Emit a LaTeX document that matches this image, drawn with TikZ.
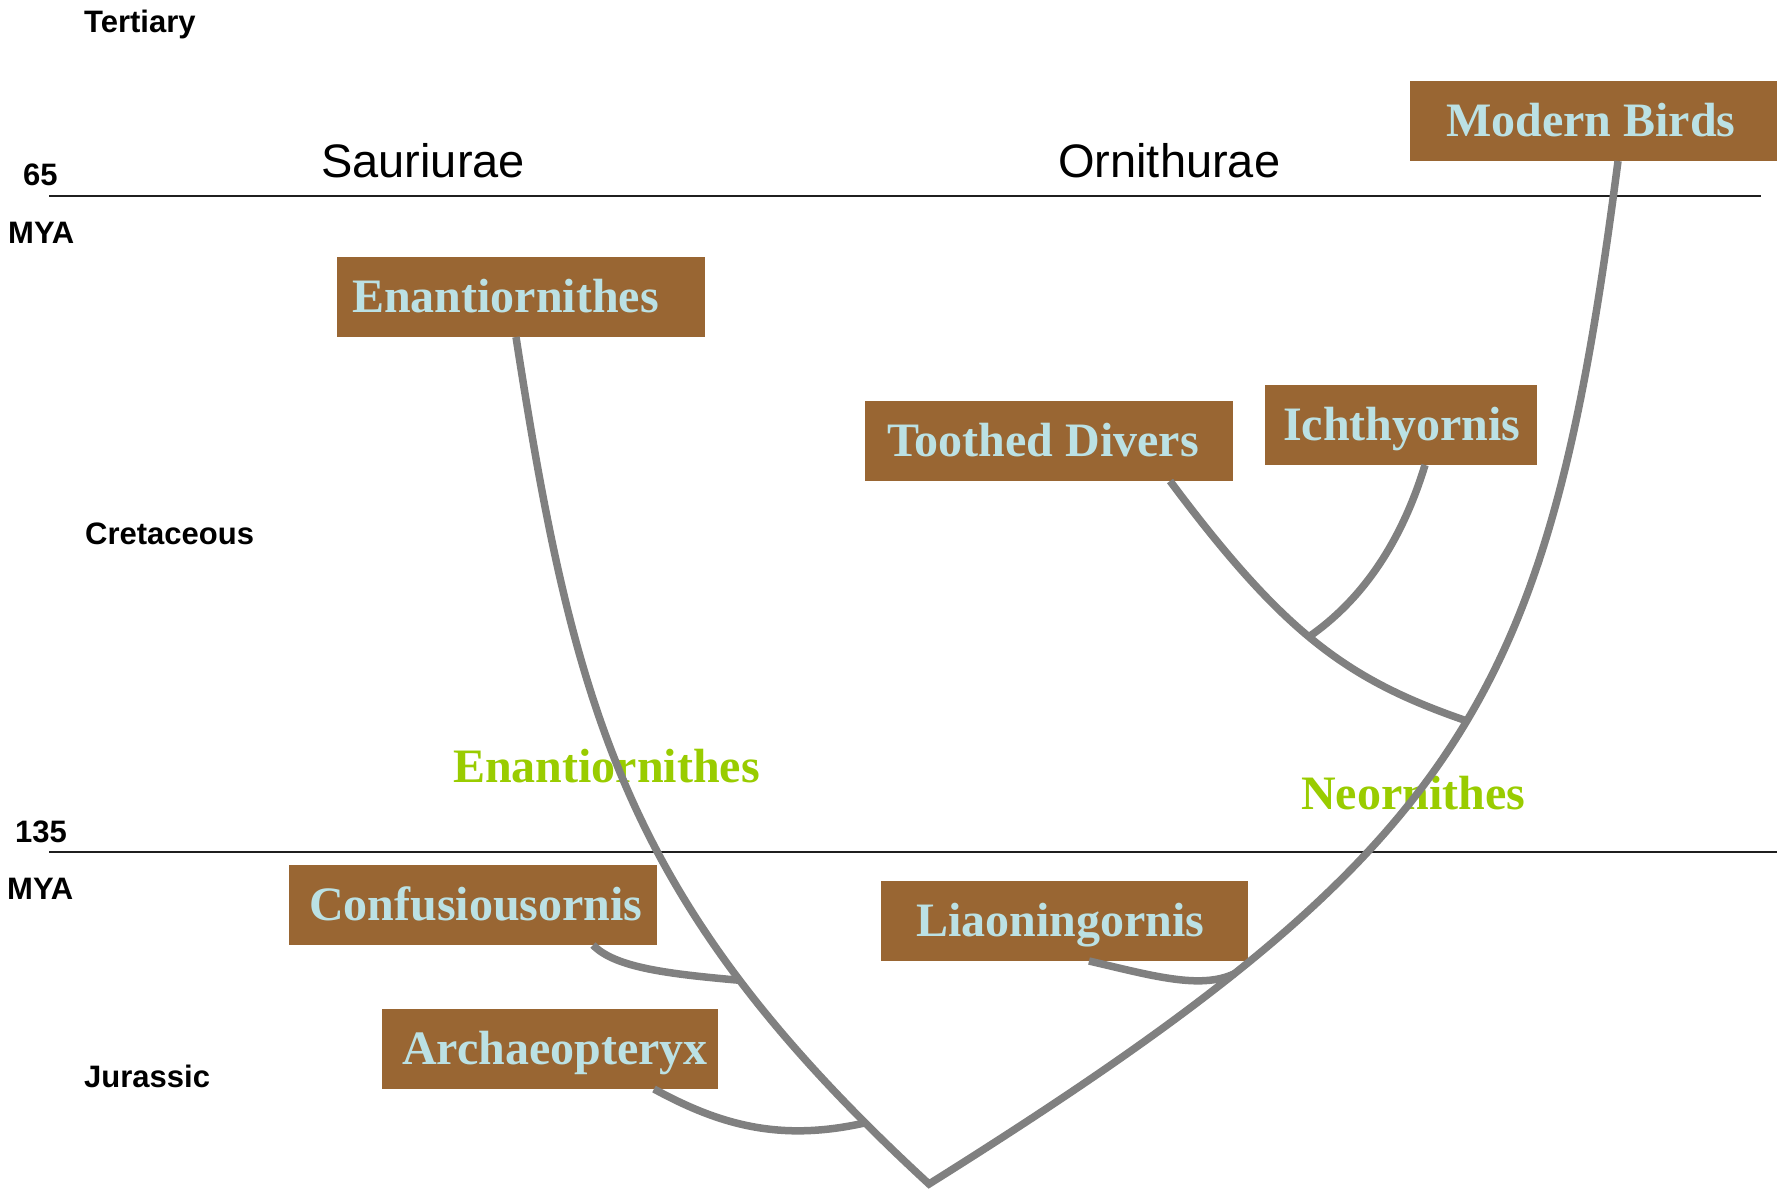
\documentclass[tikz,border=0pt]{standalone}
\usepackage{fontspec}
\setmainfont{Liberation Serif}
\newfontfamily\lsans{Liberation Sans}
\definecolor{boxbrown}{RGB}{153,102,51}
\definecolor{boxtext}{RGB}{187,225,228}
\definecolor{cladegreen}{RGB}{153,204,0}
\definecolor{branchgray}{RGB}{128,128,128}
\newcommand\bbox[6]{%
  \node[birdbox, minimum width=#4pt, anchor=north west] (#1) at (#2,#3) {};
  \node[birdlbl, anchor=base west] (#1t) at ([xshift=#5pt, yshift=-55.5pt]#1.north west) {#6};}
\begin{document}
\begin{tikzpicture}[x=1pt,y=-1pt,
  birdbox/.style={fill=boxbrown, minimum height=80pt, inner sep=0pt, outer sep=0pt},
  birdlbl/.style={text=boxtext, inner sep=0pt, font=\fontsize{48}{56}\selectfont\bfseries},
  cladelbl/.style={text=cladegreen, inner sep=0pt, anchor=base west, font=\fontsize{48}{56}\selectfont\bfseries},
  eralbl/.style={inner sep=0pt, anchor=base west, font=\lsans\fontsize{31}{36}\selectfont\bfseries},
  grouplbl/.style={inner sep=0pt, anchor=base west, font=\lsans\fontsize{47}{54}\selectfont},
  rule/.style={draw=black!88, line width=1.8pt},
  branch/.style={draw=branchgray, line width=7.5pt, line join=miter},
]
\fill[white] (0,0) rectangle (1777,1192);
\useasboundingbox (0,0) rectangle (1777,1192);

% time rules
\coordinate (r1a) at (49,196);  \coordinate (r1b) at (1761,196);
\coordinate (r2a) at (49,852);  \coordinate (r2b) at (1777,852);
\draw[rule] (r1a) -- (r1b);
\draw[rule] (r2a) -- (r2b);

% era labels
\node[eralbl] (tert) at (84,32) {Tertiary};
\node[eralbl] (m65) at (23,185) {65};
\node[eralbl] (mya1) at (8,243) {MYA};
\node[eralbl] (cret) at (85,544) {Cretaceous};
\node[eralbl] (m135) at (15,842) {135};
\node[eralbl] (mya2) at (7,899) {MYA};
\node[eralbl] (jur) at (84,1087) {Jurassic};

% group labels
\node[grouplbl] (saur) at (321,177) {Sauriurae};
\node[grouplbl] (orni) at (1058,177) {Ornithurae};

% clade labels
\node[cladelbl] (cEn) at (453,782) {Enantiornithes};
\node[cladelbl] (cNe) at (1301,809) {Neornithes};

% boxes
\bbox{MB}{1410}{81}{367}{36}{Modern Birds}
\bbox{EN}{337}{257}{368}{15}{Enantiornithes}
\bbox{TD}{865}{401}{368}{22}{Toothed Divers}
\bbox{IC}{1265}{385}{272}{18}{Ichthyornis}
\bbox{CO}{289}{865}{368}{20}{Confusiousornis}
\bbox{AR}{382}{1009}{336}{20}{Archaeopteryx}
\bbox{LI}{881}{881}{367}{35}{Liaoningornis}

% branch points
\coordinate (root) at (929,1184);

% main V
\draw[branch] ([xshift=179pt]EN.south west)
   .. controls (575,717) and (627,906) .. (root)
      coordinate[pos=0.74] (jC) coordinate[pos=0.925] (jA)
   .. controls (1470,845) and (1548,700) .. ([xshift=208pt]MB.south west)
      coordinate[pos=0.23] (jL) coordinate[pos=0.53] (jN);

% side branches
\draw[branch] ([xshift=304pt]CO.south west) .. controls (615,968) and (670,974) .. (jC);
\draw[branch] ([xshift=272pt]AR.south west) .. controls (720,1125) and (780,1142) .. (jA);
\draw[branch] ([xshift=208pt]LI.south west) .. controls (1150,975) and (1200,990) .. (jL);
\draw[branch] ([xshift=305pt]TD.south west) .. controls (1285,635) and (1348,680) .. (jN)
      coordinate[pos=0.47] (jI);
\draw[branch] ([xshift=160pt]IC.south west) .. controls (1400,547) and (1359,602) .. (jI);
\end{tikzpicture}
\end{document}
